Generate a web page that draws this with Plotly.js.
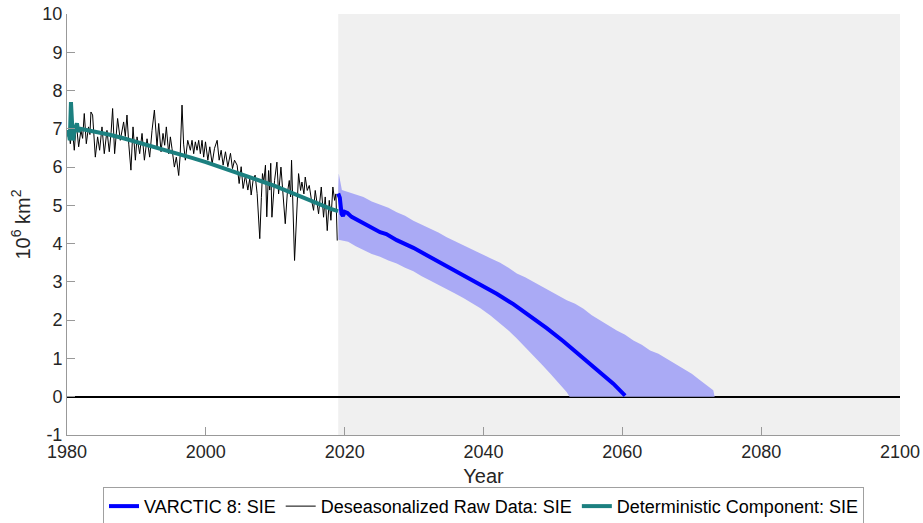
<!DOCTYPE html>
<html>
<head>
<meta charset="utf-8">
<script src="https://cdn.plot.ly/plotly-3.0.1.min.js"></script>
<style>html,body{margin:0;padding:0;background:#fff;}#chart{width:923px;height:523px;}</style>
</head>
<body>
<div id="chart"></div>
<script>
// ---- Data ----
const rawYears = [1980.0,1980.25,1980.48,1980.75,1981.05,1981.34,1981.68,1982.0,1982.25,1982.49,1982.78,1983.1,1983.3,1983.45,1983.69,1984.08,1984.41,1984.7,1985.04,1985.37,1985.76,1986.09,1986.35,1986.57,1986.86,1987.05,1987.29,1987.68,1987.9,1988.16,1988.4,1988.64,1988.9,1989.21,1989.51,1989.85,1990.09,1990.47,1990.81,1991.15,1991.53,1991.91,1992.25,1992.59,1992.97,1993.21,1993.55,1993.83,1994.07,1994.31,1994.65,1994.89,1995.13,1995.47,1995.75,1996.09,1996.3,1996.57,1996.8,1997.05,1997.39,1997.77,1998.01,1998.25,1998.49,1998.73,1998.97,1999.21,1999.45,1999.69,1999.95,2000.29,2000.57,2000.91,2001.25,2001.63,2001.92,2002.21,2002.49,2002.83,2003.17,2003.55,2003.84,2004.13,2004.51,2004.8,2005.09,2005.37,2005.71,2006.05,2006.33,2006.53,2006.81,2007.1,2007.39,2007.77,2008.0,2008.16,2008.35,2008.59,2008.78,2009.04,2009.2,2009.35,2009.52,2009.9,2010.24,2010.48,2010.82,2011.1,2011.44,2011.73,2012.02,2012.21,2012.35,2012.78,2013.12,2013.36,2013.65,2013.84,2014.13,2014.32,2014.61,2014.9,2015.19,2015.52,2015.76,2016.05,2016.24,2016.63,2016.96,2017.2,2017.49,2017.78,2018.02,2018.3,2018.55,2018.74,2018.93];
const rawValues = [6.88,6.95,6.61,7.05,6.44,7.14,6.53,6.96,6.75,7.40,6.61,7.05,6.85,7.44,7.36,6.26,6.79,6.44,7.05,6.35,6.96,6.40,6.90,7.53,6.35,6.80,7.27,6.70,6.95,7.18,6.80,7.36,6.60,5.92,7.05,6.18,6.79,6.35,6.88,6.18,6.74,6.26,6.96,7.49,6.53,7.14,6.40,6.88,6.57,7.05,6.35,6.79,6.48,6.00,6.26,5.78,6.30,7.62,6.60,6.18,6.70,6.44,6.70,6.35,6.66,6.44,6.70,6.35,6.70,6.26,6.66,6.18,6.53,6.09,6.49,6.70,6.18,6.44,6.05,6.40,6.01,6.36,5.96,6.18,6.05,5.57,6.01,5.44,5.79,5.40,5.70,5.27,5.66,5.79,5.31,4.13,5.20,5.83,5.61,6.05,4.70,5.91,5.40,6.10,4.69,5.65,6.13,5.30,6.00,5.39,4.52,5.30,5.65,5.22,6.18,3.56,5.13,5.83,5.39,5.61,5.30,5.74,5.39,5.52,5.17,4.87,5.39,5.00,4.78,5.48,4.69,5.22,4.34,5.13,4.61,5.48,5.13,5.30,4.08];

const detYears = [1980.0,1980.2,1980.4,1980.57,1980.86,1981.1,1981.43,1981.65,1981.9,1984,1986,1988,1990,1992,1994,1996,1998,2000,2002,2004,2006,2008,2010,2012,2014,2016,2018,2019.05];
const detValues = [6.79,6.96,6.70,7.70,6.70,6.96,7.14,6.92,7.00,6.93,6.85,6.76,6.66,6.56,6.46,6.35,6.24,6.13,6.01,5.89,5.76,5.63,5.50,5.36,5.21,5.06,4.91,4.85];

const fcYears = [2019.07,2019.3,2019.55,2019.75,2020.0,2020.4,2021.0,2022.7,2025.1,2026.0,2027.5,2029.9,2032.3,2034.7,2037.1,2039.5,2041.9,2044.3,2046.7,2049.1,2051.5,2053.9,2056.3,2058.7,2060.4];
const fcValues = [5.31,5.20,4.78,4.72,4.83,4.80,4.70,4.53,4.30,4.25,4.09,3.89,3.65,3.43,3.19,2.93,2.69,2.42,2.12,1.79,1.45,1.09,0.72,0.34,0.03];

const upperYears = [2019.07,2019.15,2019.6,2020.5,2021.6,2022.7,2023.9,2025.1,2026.3,2027.5,2028.7,2029.9,2031.1,2032.3,2033.5,2034.7,2035.9,2037.1,2038.3,2039.5,2041.0,2042.4,2043.6,2044.8,2046.0,2047.2,2048.4,2049.6,2050.8,2052.0,2053.2,2054.4,2055.6,2056.8,2058.0,2059.2,2060.4,2061.6,2062.8,2064.0,2065.2,2066.4,2067.6,2068.8,2070.0,2071.2,2072.0,2072.6,2073.1,2073.3];
const upperValues = [5.45,5.83,5.40,5.35,5.30,5.22,5.10,5.02,4.94,4.82,4.73,4.60,4.50,4.38,4.29,4.17,4.07,3.95,3.86,3.75,3.62,3.50,3.37,3.22,3.12,3.00,2.90,2.78,2.66,2.52,2.43,2.30,2.13,1.99,1.87,1.73,1.62,1.47,1.36,1.21,1.12,0.99,0.86,0.73,0.60,0.43,0.33,0.25,0.17,0.00];

const lowerYears = [2019.07,2019.1,2019.6,2020.5,2021.6,2022.7,2023.9,2025.1,2026.3,2027.5,2028.7,2029.9,2031.1,2032.3,2033.5,2034.7,2035.9,2037.1,2038.3,2039.5,2041.0,2042.4,2043.6,2044.8,2046.0,2047.2,2048.4,2049.6,2050.8,2052.0,2052.4,2073.3];
const lowerValues = [5.00,4.10,4.09,4.05,3.93,3.83,3.73,3.66,3.56,3.48,3.37,3.28,3.15,3.04,2.94,2.82,2.70,2.58,2.46,2.32,2.12,1.92,1.73,1.52,1.30,1.07,0.84,0.61,0.38,0.12,0.00,0.00];

const xTicks = [1980,2000,2020,2040,2060,2080,2100];
const yTicks = [-1,0,1,2,3,4,5,6,7,8,9,10];
const xRange = [1980,2100];
const yRange = [-1,10];
const forecastStart = 2019.07;

// ---- Build traces ----
const bandX = upperYears.concat(lowerYears.slice().reverse());
const bandY = upperValues.concat(lowerValues.slice().reverse());

const traces = [
  {x: bandX, y: bandY, type: 'scatter', mode: 'lines', fill: 'toself',
   fillcolor: 'rgb(170,170,245)', line: {width: 0, color: 'rgba(0,0,0,0)'},
   showlegend: false, hoverinfo: 'skip'},
  {x: rawYears, y: rawValues, type: 'scatter', mode: 'lines',
   name: 'Deseasonalized Raw Data: SIE', line: {color: '#000000', width: 1}, legendrank: 2},
  {x: detYears, y: detValues, type: 'scatter', mode: 'lines',
   name: 'Deterministic Component: SIE', line: {color: 'rgb(28,128,128)', width: 4}, legendrank: 3},
  {x: fcYears, y: fcValues, type: 'scatter', mode: 'lines',
   name: 'VARCTIC 8: SIE', line: {color: '#0000ff', width: 4}, legendrank: 1}
];

const font = 'Liberation Sans, Arial, Helvetica, sans-serif';
const layout = {
  width: 923, height: 523,
  margin: {l: 67, r: 23, t: 14, b: 88, autoexpand: false},
  paper_bgcolor: '#ffffff', plot_bgcolor: '#ffffff',
  font: {family: font, color: '#262626', size: 18},
  showlegend: true,
  legend: {orientation: 'h', x: 0.5, xanchor: 'center', xref: 'paper',
           y: 0.069, yanchor: 'top', yref: 'container',
           bordercolor: '#a0a0a0', borderwidth: 1, bgcolor: '#ffffff',
           font: {family: font, size: 18, color: '#000000'}, itemwidth: 30,
           traceorder: 'normal'},
  xaxis: {range: xRange, tickvals: xTicks, ticktext: xTicks.map(String),
          showgrid: false, zeroline: false, showline: true, linecolor: '#999999', linewidth: 1,
          ticks: 'inside', ticklen: 8, tickcolor: '#999999',
          tickfont: {family: font, size: 18, color: '#262626'},
          title: {text: 'Year', font: {family: font, size: 20, color: '#262626'}, standoff: 10}},
  yaxis: {range: yRange, tickvals: yTicks, ticktext: yTicks.map(String),
          showgrid: false, zeroline: true, zerolinecolor: '#000000', zerolinewidth: 2,
          showline: true, linecolor: '#999999', linewidth: 1,
          ticks: 'inside', ticklen: 8, tickcolor: '#999999',
          tickfont: {family: font, size: 18, color: '#262626'},
          title: {text: '10<sup>6</sup> km<sup>2</sup>', font: {family: font, size: 20, color: '#262626'}, standoff: 6}},
  shapes: [
    {type: 'rect', xref: 'x', yref: 'paper', x0: forecastStart, x1: xRange[1], y0: 0, y1: 1,
     fillcolor: 'rgb(240,240,240)', line: {width: 0}, layer: 'below'}
  ]
};

Plotly.newPlot('chart', traces, layout, {displayModeBar: false, staticPlot: true});
</script>
</body>
</html>
